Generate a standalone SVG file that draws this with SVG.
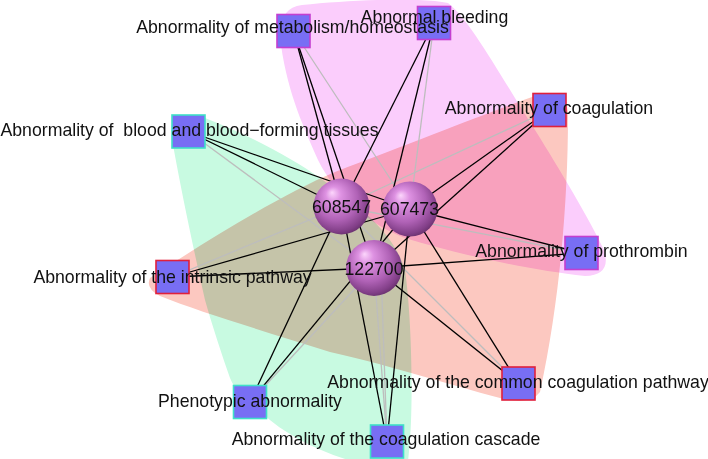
<svg xmlns="http://www.w3.org/2000/svg" width="708" height="459" viewBox="0 0 708 459">
<style>
.hull{mix-blend-mode:multiply;stroke:none}
.e{stroke:#000;stroke-width:1.3;fill:none}
.g{stroke:#bdbdbd;stroke-width:1.3;fill:none}
.sq{fill:#786ef4;stroke-width:1.6}
.pm{stroke:#c43fd0}
.pr{stroke:#e0203c}
.pc{stroke:#3fe0c8}
.lbl{font-family:"Liberation Sans",Arial,sans-serif;font-size:17.7px;fill:#111;text-anchor:middle}
</style>
<defs>
<radialGradient id="sph" cx="0.45" cy="0.42" r="0.62" fx="0.33" fy="0.25">
<stop offset="0" stop-color="#fcd6fc"/>
<stop offset="0.22" stop-color="#de92e2"/>
<stop offset="0.62" stop-color="#b062b6"/>
<stop offset="0.88" stop-color="#823f88"/>
<stop offset="1" stop-color="#632e68"/>
</radialGradient>
</defs>
<rect width="708" height="459" fill="#fff"/>
<g id="hulls">
<path class="hull" fill="#fbcdfc" d="M281,45 Q276,8 302,5 C350,0 420,-3 448,3 C470,20 500,75 535,130 C560,170 590,220 604,250 Q612,275 585,276 C530,270 460,255 405,238 C370,225 335,195 318,160 C305,130 288,95 281,45 Z"/>
<path class="hull" fill="#fcc8c0" d="M150,278 C200,245 280,195 335,172 C420,140 500,108 535,96 Q568,88 568,115 C568,200 560,300 540,392 Q530,406 500,398 C450,385 400,368 330,352 C260,330 200,312 160,296 Q145,288 150,278 Z"/>
<path class="hull" fill="#c8fae1" d="M174,118 Q180,112 205,118 C250,135 295,160 320,178 C360,205 395,235 405,270 C412,320 413,400 410,440 L408,462 L355,462 C320,452 285,435 262,413 C245,400 236,392 230,378 C222,355 212,325 205,300 C196,260 183,200 173,145 Q170,122 174,118 Z"/>
</g>
<g id="connectors">
<line class="g" x1="293.5" y1="31" x2="410" y2="209"/>
<line class="g" x1="434" y1="23" x2="410" y2="209"/>
<line class="g" x1="549.5" y1="110" x2="341.5" y2="206.5"/>
<line class="g" x1="188.5" y1="131.5" x2="374" y2="268"/>
<line class="g" x1="172.5" y1="277" x2="341.5" y2="206.5"/>
<line class="g" x1="250" y1="402" x2="374" y2="268"/>
<line class="g" x1="387" y1="441.5" x2="374" y2="268"/>
<line class="g" x1="387" y1="441.5" x2="380" y2="240"/>
<line class="g" x1="518.5" y1="383.5" x2="341.5" y2="206.5"/>
<line class="g" x1="581.5" y1="253" x2="341.5" y2="206.5"/>
<line class="e" x1="293.5" y1="31" x2="341.5" y2="206.5"/>
<line class="e" x1="293.5" y1="31" x2="374" y2="268"/>
<line class="e" x1="434" y1="23" x2="341.5" y2="206.5"/>
<line class="e" x1="434" y1="23" x2="374" y2="268"/>
<line class="e" x1="549.5" y1="110" x2="410" y2="209"/>
<line class="e" x1="549.5" y1="110" x2="374" y2="268"/>
<line class="e" x1="188.5" y1="131.5" x2="341.5" y2="206.5"/>
<line class="e" x1="188.5" y1="131.5" x2="410" y2="209"/>
<line class="e" x1="172.5" y1="277" x2="410" y2="209"/>
<line class="e" x1="172.5" y1="277" x2="374" y2="268"/>
<line class="e" x1="250" y1="402" x2="341.5" y2="206.5"/>
<line class="e" x1="250" y1="402" x2="410" y2="209"/>
<line class="e" x1="387" y1="441.5" x2="341.5" y2="206.5"/>
<line class="e" x1="387" y1="441.5" x2="410" y2="209"/>
<line class="e" x1="518.5" y1="383.5" x2="410" y2="209"/>
<line class="e" x1="518.5" y1="383.5" x2="374" y2="268"/>
<line class="e" x1="581.5" y1="253" x2="410" y2="209"/>
<line class="e" x1="581.5" y1="253" x2="374" y2="268"/>
</g>
<g id="n608547"><circle cx="341.5" cy="206.5" r="28" fill="url(#sph)"/></g>
<g id="n607473"><circle cx="410" cy="209" r="27.5" fill="url(#sph)"/></g>
<g id="n122700"><circle cx="374" cy="268" r="28" fill="url(#sph)"/></g>
<g id="metabolism"><rect class="sq pm" x="277" y="14.5" width="33" height="33"/></g>
<g id="bleeding"><rect class="sq pm" x="417.5" y="6.5" width="33" height="33"/></g>
<g id="coagulation"><rect class="sq pr" x="533" y="93.5" width="33" height="33"/></g>
<g id="blood"><rect class="sq pc" x="172" y="115" width="33" height="33"/></g>
<g id="prothrombin"><rect class="sq pm" x="565" y="236.5" width="33" height="33"/></g>
<g id="intrinsic"><rect class="sq pr" x="156" y="260.5" width="33" height="33"/></g>
<g id="common"><rect class="sq pr" x="502" y="367" width="33" height="33"/></g>
<g id="phenotypic"><rect class="sq pc" x="233.5" y="385.5" width="33" height="33"/></g>
<g id="cascade"><rect class="sq pc" x="370.5" y="425" width="33" height="33"/></g>
<g id="labels">
<text class="lbl" x="341.5" y="213">608547</text>
<text class="lbl" x="409.5" y="215">607473</text>
<text class="lbl" x="374" y="275">122700</text>
<text class="lbl" x="292.5" y="33">Abnormality of metabolism/homeostasis</text>
<text class="lbl" x="434.5" y="22.5">Abnormal bleeding</text>
<text class="lbl" x="549" y="114">Abnormality of coagulation</text>
<text class="lbl" x="189.5" y="136" xml:space="preserve">Abnormality of  blood and blood−forming tissues</text>
<text class="lbl" x="581.5" y="257">Abnormality of prothrombin</text>
<text class="lbl" x="172.5" y="283">Abnormality of the intrinsic pathway</text>
<text class="lbl" x="518" y="388">Abnormality of the common coagulation pathway</text>
<text class="lbl" x="250" y="407">Phenotypic abnormality</text>
<text class="lbl" x="386" y="445">Abnormality of the coagulation cascade</text>
</g>
</svg>
